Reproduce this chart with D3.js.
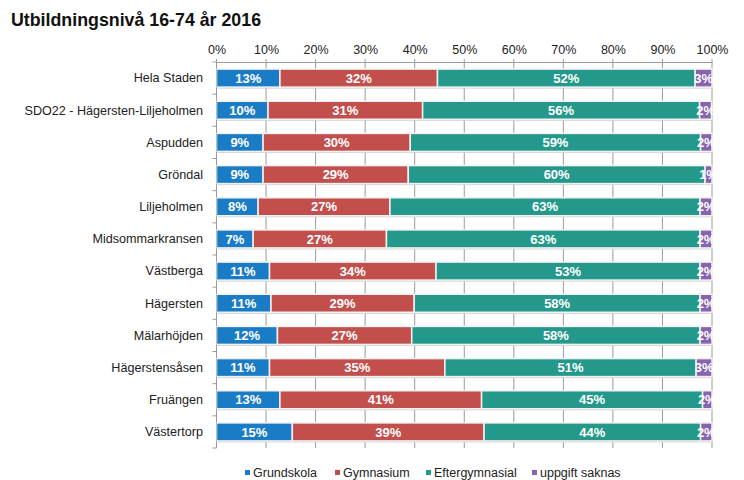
<!DOCTYPE html>
<html>
<head>
<meta charset="utf-8">
<script src="https://cdn.jsdelivr.net/npm/d3@7"></script>
<style>
  body { margin: 0; background: #fff; }
  text { font-family: "Liberation Sans", Arial, sans-serif; }
</style>
</head>
<body>
<svg id="chart" width="744" height="480"></svg>
<script>
const title = "Utbildningsnivå 16-74 år 2016";
const categories = ["Hela Staden", "SDO22 - Hägersten-Liljeholmen", "Aspudden", "Gröndal", "Liljeholmen",
  "Midsommarkransen", "Västberga", "Hägersten", "Mälarhöjden", "Hägerstensåsen", "Fruängen", "Västertorp"];
const seriesNames = ["Grundskola", "Gymnasium", "Eftergymnasial", "uppgift saknas"];
const grundskola     = [12.8, 10.4, 9.4, 9.4, 8.4, 7.4, 10.7, 11.0, 12.3, 10.7, 12.8, 15.3];
const gymnasium      = [31.8, 31.2, 29.7, 29.3, 26.6, 26.9, 33.6, 28.9, 27.1, 35.4, 40.7, 38.7];
const eftergymnasial = [52.0, 55.9, 58.6, 59.9, 62.6, 63.3, 53.3, 57.7, 58.2, 50.7, 44.6, 43.7];
const uppgiftSaknas  = [3.4, 2.4, 2.3, 1.4, 2.4, 2.4, 2.4, 2.4, 2.4, 3.2, 1.9, 2.3];
const tickValues = [0, 10, 20, 30, 40, 50, 60, 70, 80, 90, 100];
const colors = ["#1b7cc6", "#c24f4c", "#24998b", "#8764ad"];

const seriesValues = [grundskola, gymnasium, eftergymnasial, uppgiftSaknas];
const rows = categories.map((c, i) => {
  const r = { cat: c };
  seriesNames.forEach((s, j) => r[s] = seriesValues[j][i]);
  return r;
});

const svg = d3.select("#chart");
const mLeft = 216.5, mRight = 712, mTop = 62, mBottom = 448;

const x = d3.scaleLinear().domain([0, 100]).range([mLeft, mRight]);
const y = d3.scaleBand().domain(categories).range([mTop, mBottom]).paddingInner(0.44).paddingOuter(0.22);

svg.append("text").attr("x", 11).attr("y", 26)
  .attr("font-size", 17.8).attr("font-weight", "bold").attr("fill", "#111").text(title);

// gridlines
svg.append("g").selectAll("line").data(tickValues).join("line")
  .attr("x1", d => x(d)).attr("x2", d => x(d))
  .attr("y1", mTop - 3).attr("y2", mBottom)
  .attr("stroke", "#9a9a9a").attr("stroke-width", 1);

// top axis
const xAxis = d3.axisTop(x).tickValues(tickValues).tickFormat(d => d + "%").tickSize(0).tickPadding(8);
const gx = svg.append("g").attr("transform", `translate(0,${mTop})`).call(xAxis);
gx.select(".domain").attr("stroke", "#9a9a9a");
gx.selectAll("text").attr("font-size", 12.5).attr("fill", "#222")
  .style("font-family", "'Liberation Sans', Arial, sans-serif");

// left axis
svg.append("line").attr("x1", mLeft).attr("x2", mLeft).attr("y1", mTop).attr("y2", mBottom)
  .attr("stroke", "#9a9a9a");
const boundaries = d3.range(categories.length + 1).map(i => mTop + i * y.step());
svg.append("g").selectAll("line").data(boundaries).join("line")
  .attr("x1", mLeft - 4).attr("x2", mLeft).attr("y1", d => d).attr("y2", d => d)
  .attr("stroke", "#9a9a9a");

// category labels
svg.append("g").selectAll("text").data(categories).join("text")
  .attr("x", 203).attr("y", d => y(d) + y.bandwidth() / 2)
  .attr("dy", "0.35em").attr("text-anchor", "end")
  .attr("font-size", 12.6).attr("fill", "#222").text(d => d);

const stack = d3.stack().keys(seriesNames);
const stacked = stack(rows);

svg.append("defs").append("clipPath").attr("id", "plotclip")
  .append("rect").attr("x", mLeft).attr("y", mTop).attr("width", mRight - mLeft + 1).attr("height", mBottom - mTop);

// bar shadow
svg.append("g").selectAll("rect").data(rows).join("rect")
  .attr("x", x(0) + 1).attr("y", d => y(d.cat) + 1.5)
  .attr("width", x(100) - x(0)).attr("height", y.bandwidth())
  .attr("fill", "#cfcfcf").attr("clip-path", "url(#plotclip)");

const groups = svg.append("g").attr("clip-path", "url(#plotclip)")
  .selectAll("g").data(stacked).join("g")
  .attr("fill", (d, i) => colors[i]);

groups.selectAll("rect").data(d => d).join("rect")
  .attr("x", d => x(d[0])).attr("y", d => y(d.data.cat))
  .attr("width", d => x(d[1]) - x(d[0])).attr("height", y.bandwidth())
  .attr("stroke", "#f2f2f2").attr("stroke-width", 1.5);

groups.selectAll("text").data(d => d).join("text")
  .attr("x", d => (x(d[0]) + x(d[1])) / 2)
  .attr("y", d => y(d.data.cat) + y.bandwidth() / 2)
  .attr("dy", "0.36em").attr("text-anchor", "middle")
  .attr("font-size", 13).attr("font-weight", "bold").attr("fill", "#fff")
  .text(d => Math.round(+(d[1] - d[0]).toFixed(1)) + "%");

// legend
const legendX = [245, 335, 426, 532];
const lg = svg.append("g").selectAll("g").data(seriesNames).join("g")
  .attr("transform", (d, i) => `translate(${legendX[i]},473)`);
lg.append("rect").attr("x", 0).attr("y", -3).attr("width", 5).attr("height", 5)
  .attr("fill", (d, i) => colors[i]);
lg.append("text").attr("x", 8).attr("y", 0).attr("dy", "0.35em")
  .attr("font-size", 12.5).attr("fill", "#222").text(d => d);
</script>
</body>
</html>
